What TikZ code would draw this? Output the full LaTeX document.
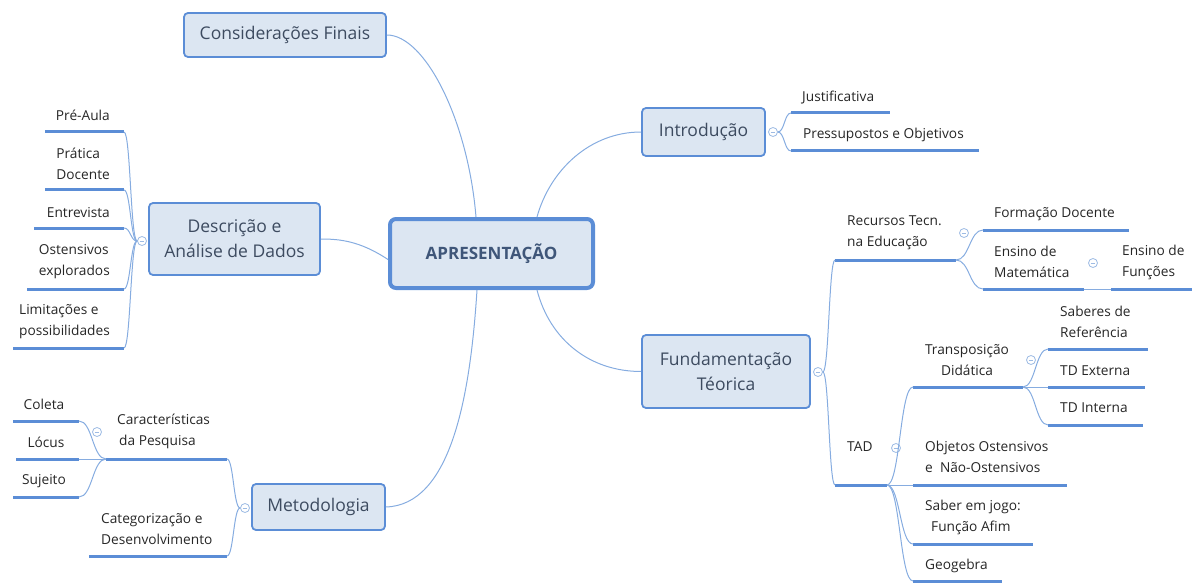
\documentclass[tikz,border=0pt]{standalone}
\usepackage{fontspec}
\setmainfont{Open Sans}
\usetikzlibrary{calc}

\definecolor{boxfill}{HTML}{DCE6F2}
\definecolor{boxline}{HTML}{5B8DD6}
\definecolor{boxtext}{HTML}{3D4B60}
\definecolor{hubtext}{HTML}{3F5679}
\definecolor{leaftext}{HTML}{262626}
\definecolor{ulcol}{HTML}{5B8DD6}
\definecolor{connline}{HTML}{86ACE0}
\definecolor{knobline}{HTML}{9DBBE4}

\tikzset{
  box/.style={draw=boxline, fill=boxfill, line width=1.8pt, rounded corners=4pt,
    text=boxtext, font=\fontsize{17.5}{25}\selectfont, align=center, inner sep=0pt},
  hub/.style={box, line width=4pt, rounded corners=6pt, text=hubtext,
    font=\bfseries\fontsize{17}{20}\selectfont},
  leaf/.style={text=leaftext, font=\fontsize{13.7}{21}\selectfont, inner sep=0pt},
  ul/.style={draw=ulcol, line width=3pt},
  conn/.style={draw=connline, line width=1pt},
  brk/.style={to path={let \p1=(\tikztostart), \p2=(\tikztotarget),
      \p3=($(\tikztostart)!0.5!(\tikztotarget)$) in
      .. controls (\x3,\y1) and (\x3,\y2) .. (\tikztotarget) \tikztonodes}},
  knob/.style={circle, draw=knobline, fill=white, line width=0.8pt,
    minimum size=9pt, inner sep=0pt,
    path picture={\draw[knobline, line width=0.8pt]
      ([xshift=-2.3pt]path picture bounding box.center) --
      ([xshift=2.3pt]path picture bounding box.center);}},
}

% underline of a leaf topic: name, x from, x to, y
\newcommand\leafbar[4]{%
  \coordinate (#1-a) at (#2,#4);
  \coordinate (#1-b) at (#3,#4);
  \draw[ul] (#1-a) -- (#1-b);}

\begin{document}
\begin{tikzpicture}[x=1pt,y=-1pt]
\useasboundingbox (0,0) rectangle (1192,583);

% ---- main topics ----
\node[hub, minimum width=203pt, minimum height=69pt] (hub) at (491.5,253.5) {APRESENTAÇÃO};
\node[box, minimum width=202pt, minimum height=44pt] (fin) at (285,35) {Considerações Finais};
\node[box, minimum width=123pt, minimum height=48pt] (intro) at (703.5,132) {Introdução};
\node[box, minimum width=171pt, minimum height=72pt] (desc) at (234.5,239) {Descrição e\\Análise de Dados};
\node[box, minimum width=168pt, minimum height=73pt] (fund) at (726,371.5) {Fundamentação\\Téorica};
\node[box, minimum width=133pt, minimum height=46pt] (met) at (318.5,507) {Metodologia};

% ---- links from the central topic ----
\draw[conn] (fin.east) .. controls (425,35) and (468,120) .. ([xshift=-15.5pt]hub.north);
\draw[conn] ([xshift=45.5pt]hub.north) .. controls (550,170) and (590,132) .. (intro.west);
\draw[conn] ([yshift=-6pt]hub.west) .. controls (360,241) and (340,239) .. (desc.east);
\draw[conn] ([xshift=45.5pt]hub.south) .. controls (550,340) and (590,371.5) .. (fund.west);
\draw[conn] ([xshift=-14.5pt]hub.south) .. controls (470,400) and (450,505) .. (met.east);

% ---- Introdução ----
\node[knob] (k-intro) at (773,132) {};
\leafbar{jus}{791}{890}{113}
\leafbar{pre}{791}{979}{151}
\node[leaf, anchor=west] (t-jus) at (802,98) {Justificativa};
\node[leaf, anchor=west] (t-pre) at (803,135) {Pressupostos e Objetivos};
\draw[conn] (k-intro.east) to[brk] (jus-a);
\draw[conn] (k-intro.east) to[brk] (pre-a);

% ---- Descrição e Análise de Dados ----
\node[knob] (k-desc) at (142,241) {};
\leafbar{aula}{45}{124}{132}
\leafbar{prat}{45}{124}{190}
\leafbar{entr}{34}{124}{228}
\leafbar{oste}{27}{124}{289}
\leafbar{limi}{13}{124}{348}
\node[leaf, anchor=east] (t-aula) at (110,115) {Pré-Aula};
\node[leaf, anchor=east, align=left] (t-prat) at (110,164) {Prática\\Docente};
\node[leaf, anchor=east] (t-entr) at (110,213) {Entrevista};
\node[leaf, anchor=east, align=left] (t-oste) at (110,262) {Ostensivos\\explorados};
\node[leaf, anchor=east, align=left] (t-limi) at (110,322) {Limitações e\\possibilidades};
\foreach \c in {aula,prat,entr,oste,limi}
  \draw[conn] (k-desc.west) to[brk] (\c-b);

% ---- Fundamentação Téorica ----
\node[knob] (k-fund) at (818,372) {};
\leafbar{recu}{835}{956}{260}
\leafbar{tad}{835}{887}{485}
\node[leaf, anchor=west, align=left] (t-recu) at (847,233) {Recursos Tecn.\\na Educação};
\node[leaf, anchor=west] (t-tad) at (847,447) {TAD};
\draw[conn] (k-fund.east) to[brk] (recu-a);
\draw[conn] (k-fund.east) to[brk] (tad-a);

% Recursos Tecn. na Educação
\node[knob] (k-recu) at (964,233) {};
\leafbar{form}{983}{1129}{230}
\leafbar{ensm}{983}{1084}{289}
\node[leaf, anchor=west] (t-form) at (994,214) {Formação Docente};
\node[leaf, anchor=west, align=left] (t-ensm) at (994,262) {Ensino de\\Matemática};
\draw[conn] (recu-b) to[brk] (form-a);
\draw[conn] (recu-b) to[brk] (ensm-a);

% Ensino de Matemática
\node[knob] (k-ensm) at (1093,263) {};
\leafbar{ensf}{1111}{1192}{289}
\node[leaf, anchor=west, align=left] (t-ensf) at (1122,262) {Ensino de\\Funções};
\draw[conn] (ensm-b) -- (ensf-a);

% TAD
\node[knob] (k-tad) at (896,448) {};
\leafbar{trans}{913}{1023}{387}
\leafbar{obj}{913}{1067}{485}
\leafbar{sab}{913}{1033}{544}
\leafbar{geo}{913}{1002}{581}
\node[leaf, align=center] (t-trans) at (967,360) {Transposição\\Didática};
\node[leaf, anchor=west, align=left] (t-obj) at (925,457) {Objetos Ostensivos\\e\ \ Não-Ostensivos};
\node[leaf, anchor=west, align=left] (t-sab) at (925,517) {Saber em jogo:\\\hspace*{6pt}Função Afim};
\node[leaf, anchor=west] (t-geo) at (925,566) {Geogebra};
\foreach \c in {trans,obj,sab,geo}
  \draw[conn] (tad-b) to[brk] (\c-a);

% Transposição Didática
\node[knob] (k-trans) at (1031,360) {};
\leafbar{sref}{1048}{1148}{349}
\leafbar{tdex}{1048}{1145}{387}
\leafbar{tdin}{1048}{1143}{425}
\node[leaf, anchor=west, align=left] (t-sref) at (1060,322) {Saberes de\\Referência};
\node[leaf, anchor=west] (t-tdex) at (1060,371) {TD Externa};
\node[leaf, anchor=west] (t-tdin) at (1060,408) {TD Interna};
\foreach \c in {sref,tdex,tdin}
  \draw[conn] (trans-b) to[brk] (\c-a);

% ---- Metodologia ----
\node[knob] (k-met) at (245,508) {};
\leafbar{cara}{106}{227}{459}
\leafbar{cate}{89}{227}{556}
\node[leaf, anchor=west, align=left] (t-cara) at (117,431) {Características\\\hspace*{2pt}da Pesquisa};
\node[leaf, anchor=west, align=left] (t-cate) at (101,529) {Categorização e\\Desenvolvimento};
\draw[conn] (k-met.west) to[brk] (cara-b);
\draw[conn] (k-met.west) to[brk] (cate-b);

% Características da Pesquisa
\node[knob] (k-cara) at (97,432) {};
\leafbar{cole}{13}{79}{421}
\leafbar{locu}{16}{79}{459}
\leafbar{suje}{13}{79}{497}
\node[leaf] (t-cole) at (44,404) {Coleta};
\node[leaf] (t-locu) at (46,442) {Lócus};
\node[leaf] (t-suje) at (44,481) {Sujeito};
\foreach \c in {cole,locu,suje}
  \draw[conn] (cara-a) to[brk] (\c-b);

\end{tikzpicture}
\end{document}
